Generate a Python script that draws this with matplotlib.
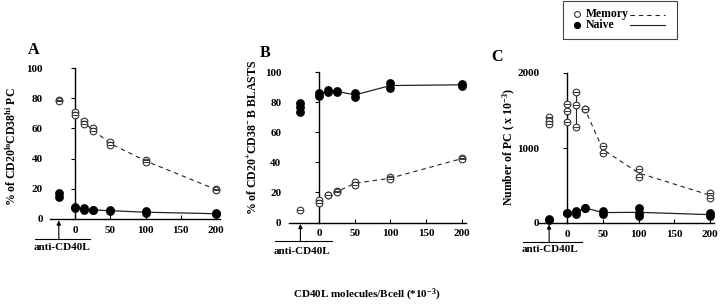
from matplotlib import pyplot as plt
from matplotlib.lines import Line2D
import numpy as np

plt.rcParams['font.family'] = 'Liberation Serif'
plt.rcParams['font.weight'] = 'bold'
plt.rcParams['mathtext.fontset'] = 'custom'
plt.rcParams['mathtext.rm'] = 'Liberation Serif:bold'
plt.rcParams['mathtext.it'] = 'Liberation Serif:bold'
plt.rcParams['mathtext.bf'] = 'Liberation Serif:bold'
plt.rcParams['mathtext.default'] = 'rm'

# CD40L doses (x 10^-3 molecules / B cell)
doses = [0, 12.5, 25, 50, 100, 200]

# panel A : % of CD20lo CD38hi PC
a_memory = [[71, 69], [65, 63], [60, 58], [51, 49], [39, 38], [20, 19]]
a_memory_anti = [79, 78]
a_naive = [[8, 7], [7, 6], [6, 6], [6, 5], [5, 4], [4, 3]]
a_naive_anti = [17, 14.5]

# panel B : % of CD20+ CD38- B blasts
b_memory = [[15, 13], [18, 18], [21, 20], [27, 25], [30, 29], [43, 42]]
b_memory_anti = [8]
b_naive = [[86, 84], [88, 87], [87.5, 87], [86, 83.5], [92.5, 89.5], [92, 91]]
b_naive_anti = [79.5, 77, 73.5]

# panel C : number of PC (x 10^-3)
c_memory = [[1590, 1490, 1350], [1750, 1570, 1280], [1520, 1520],
            [1030, 935], [720, 615], [405, 335]]
c_memory_anti = [1410, 1365, 1315]
c_naive = [[129, 129], [160, 118], [205, 200], [160, 118], [196, 138, 93], [130, 93]]
c_naive_anti = [55, 40]

# layout (pixels of the 720x307 picture)
W, H = 720, 307
panels = [
    dict(x0=75, sx=0.705, y0=219, ytop=68, xl=(-35, 205), ymax=100, anti=-23,
         yt=[0, 20, 40, 60, 80, 100], pad=20, letter='A', lpos=(34, 50),
         ylab=r'% of CD20$^{lo}$CD38$^{hi}$ PC', ylx=12, yly=147,
         uly=239, ulx=(35, 90), txy=247,
         mem=a_memory, mem_anti=a_memory_anti, nai=a_naive, nai_anti=a_naive_anti),
    dict(x0=319, sx=0.715, y0=222.5, ytop=72, xl=(-42, 205), ymax=100, anti=-26,
         yt=[0, 20, 40, 60, 80, 100], pad=24, letter='B', lpos=(265, 53),
         ylab=r'% of CD20$^{+}$CD38$^{-}$ B BLASTS', ylx=253, yly=137,
         uly=241, ulx=(275, 332), txy=251,
         mem=b_memory, mem_anti=b_memory_anti, nai=b_naive, nai_anti=b_naive_anti),
    dict(x0=567, sx=0.715, y0=223, ytop=73, xl=(-40, 205), ymax=2000, anti=-25,
         yt=[0, 1000, 2000], pad=17, letter='C', lpos=(497, 57),
         ylab=r'Number of PC ( x 10$^{-3}$)', ylx=509, yly=147,
         uly=242, ulx=(523, 582), txy=250,
         mem=c_memory, mem_anti=c_memory_anti, nai=c_naive, nai_anti=c_naive_anti),
]

fig = plt.figure(figsize=(W / 100, H / 100), dpi=100)


def open_pts(ax, x, y):
    ax.plot(x, y, 'o', ms=4.8, mfc='white', mec='#333333', mew=0.8, ls='none', zorder=4, clip_on=False)
    ax.plot(x, y, '_', ms=4.8, mec='#333333', mew=0.7, ls='none', zorder=5, clip_on=False)


def filled_pts(ax, x, y):
    ax.plot(x, y, 'o', ms=5.3, color='black', ls='none', zorder=4, clip_on=False)


for i, p in enumerate(panels):
    left = p['x0'] + p['xl'][0] * p['sx']
    right = p['x0'] + p['xl'][1] * p['sx']
    rect = [left / W, 1 - p['y0'] / H, (right - left) / W, (p['y0'] - p['ytop']) / H]
    ax = fig.add_axes(rect)
    ax.set_xlim(*p['xl'])
    ax.set_ylim(0, p['ymax'])
    for s in ['top', 'right']:
        ax.spines[s].set_visible(False)
    ax.spines['left'].set_position(('data', 0))
    ax.spines['left'].set_linewidth(1.0)
    ax.spines['bottom'].set_linewidth(1.0)
    ax.set_xticks([0, 50, 100, 150, 200])
    ax.set_yticks(p['yt'])
    ax.tick_params(axis='x', direction='in', length=3, width=0.8, pad=5, labelsize=8)
    ax.tick_params(axis='y', direction='out', length=3, width=0.8, pad=p['pad'], labelsize=8)
    for lab in ax.get_xticklabels() + ax.get_yticklabels():
        lab.set_fontweight('bold')

    # memory (open, dashed) and naive (filled, solid)
    mem_mean = [np.mean(v) for v in p['mem']]
    nai_mean = [np.mean(v) for v in p['nai']]
    ax.plot(doses, mem_mean, color='#222222', lw=0.8, dashes=(4, 3.5), zorder=2)
    ax.plot(doses, nai_mean, color='#222222', lw=0.9, zorder=2)
    if i == 2:
        for d, v in zip(doses, p['mem']):
            ax.vlines(d, min(v), max(v), color='#222222', lw=0.8, zorder=2)
    for d, v in zip(doses, p['mem']):
        open_pts(ax, [d] * len(v), v)
    for d, v in zip(doses, p['nai']):
        filled_pts(ax, [d] * len(v), v)
    open_pts(ax, [p['anti']] * len(p['mem_anti']), p['mem_anti'])
    filled_pts(ax, [p['anti']] * len(p['nai_anti']), p['nai_anti'])

    # anti-CD40L marker below the axis
    tr = ax.get_xaxis_transform()
    hpx = p['y0'] - p['ytop']
    uly = -(p['uly'] - p['y0']) / hpx
    ax.annotate('', xy=(p['anti'], -0.01), xycoords=tr, xytext=(p['anti'], uly), textcoords=tr,
                arrowprops=dict(arrowstyle='-|>', color='black', lw=0.8, mutation_scale=6,
                                shrinkA=0, shrinkB=0))
    fig.add_artist(Line2D([p['ulx'][0] / W, p['ulx'][1] / W], [1 - p['uly'] / H] * 2,
                          color='black', lw=0.8))
    fig.text((p['ulx'][0] - 1) / W, 1 - p['txy'] / H, 'anti-CD40L', fontsize=8,
             fontweight='bold', ha='left', va='center')

    fig.text(p['lpos'][0] / W, 1 - p['lpos'][1] / H, p['letter'], fontsize=11.5,
             fontweight='bold', ha='center', va='center')
    fig.text(p['ylx'] / W, 1 - p['yly'] / H, p['ylab'], fontsize=8.5, fontweight='bold',
             rotation=90, ha='center', va='center')

# overall x label
fig.text(367 / W, 1 - 295 / H, r'CD40L molecules/Bcell (*10$^{-3}$)', fontsize=8,
         fontweight='bold', ha='center', va='center')

# legend box
fig.add_artist(plt.Rectangle((563 / W, 1 - 39 / H), 114 / W, 38 / H, fill=False,
                             ec='#444444', lw=0.8, transform=fig.transFigure))
fig.add_artist(Line2D([577 / W], [1 - 14 / H], marker='o', ms=4.2, mfc='white', mec='#333333',
                      mew=0.8, ls='none'))
fig.add_artist(Line2D([577 / W], [1 - 25 / H], marker='o', ms=4.2, color='black', ls='none'))
fig.text(586 / W, 1 - 14 / H, 'Memory', fontsize=8.5, fontweight='bold', va='center')
fig.text(586 / W, 1 - 25 / H, 'Naive', fontsize=8.5, fontweight='bold', va='center')
fig.add_artist(Line2D([630 / W, 665 / W], [1 - 15 / H] * 2, color='#222222', lw=0.8, dashes=(4, 3.5)))
fig.add_artist(Line2D([630 / W, 665 / W], [1 - 25 / H] * 2, color='#222222', lw=0.8))

plt.savefig('out.png', dpi=100)
